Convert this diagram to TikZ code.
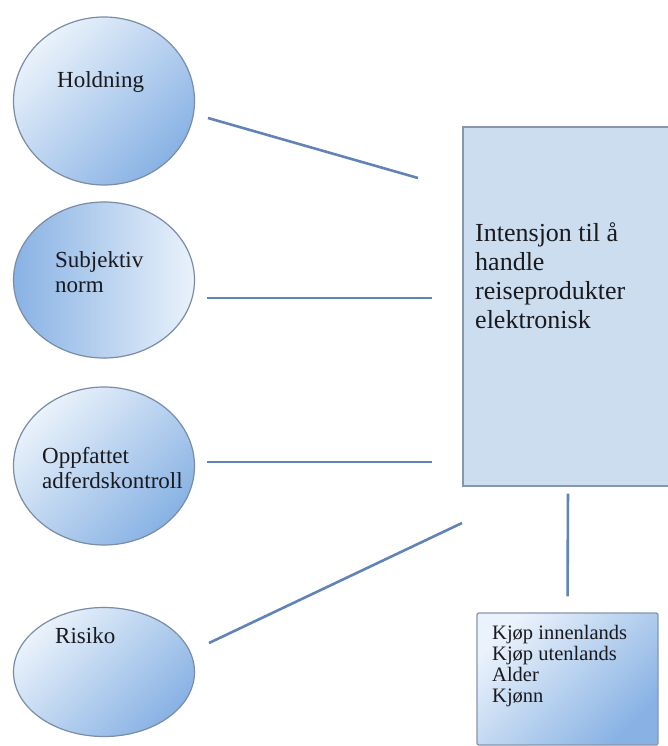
\documentclass[tikz,border=0pt]{standalone}
\usepackage{fontspec}
\setmainfont{Liberation Serif}
\usetikzlibrary{shapes.geometric}
\definecolor{lineblue}{RGB}{98,131,181}
\definecolor{circedge}{RGB}{122,140,166}
\definecolor{clight}{RGB}{234,242,251}
\definecolor{cmid}{RGB}{196,217,242}
\definecolor{cdark}{RGB}{136,178,228}
\definecolor{boxfill}{RGB}{204,221,240}
\definecolor{boxedge}{RGB}{135,150,174}
\definecolor{txt}{RGB}{25,25,30}
\begin{document}
\begin{tikzpicture}[x=1pt,y=-1pt,
  circ/.style={ellipse, draw=circedge, line width=1.2pt, inner sep=0pt,
    minimum width=181pt, shading=axis, top color=clight, middle color=cmid, bottom color=cdark, shading angle=45},
  lbl/.style={inner sep=0pt, text=txt, align=left, font=\fontsize{23}{25}\selectfont},
  bigbox/.style={rectangle, draw=boxedge, line width=1.3pt, fill=boxfill, inner sep=0pt,
    minimum width=210pt, minimum height=359pt},
  smallbox/.style={rectangle, rounded corners=2pt, draw=boxedge, line width=1.3pt, inner sep=0pt,
    minimum width=181pt, minimum height=132pt, shading=axis, top color=clight, middle color=cmid, bottom color=cdark, shading angle=45},
  conn/.style={draw=lineblue, line width=2.6pt}
]
\useasboundingbox[fill=white] (0,0) rectangle (668,746);

% circles
\node[circ, minimum height=168pt] (h) at (104,101) {};
\node[circ, minimum height=156pt, left color=cdark, middle color=cmid, right color=clight] (s) at (104,280) {};
\node[circ, minimum height=158pt] (o) at (104,466) {};
\node[circ, minimum height=129pt] (r) at (104,672) {};

\node[lbl, anchor=base west] (ht) at (57,88) {Holdning};
\node[lbl, anchor=base west] (st) at (55,292) {Subjektiv\\norm};
\node[lbl, anchor=base west] (ot) at (42,488) {Oppfattet\\adferdskontroll};
\node[lbl, anchor=base west] (rt) at (55,643) {Risiko};

% boxes
\node[bigbox] (i) at (568,306.5) {};
\node[inner sep=0pt, text=txt, align=left, anchor=base west,
      font=\fontsize{26}{29}\selectfont] (itext) at (475,328)
  {Intensjon til å\\handle\\reiseprodukter\\elektronisk};

\node[smallbox] (k) at (567.5,679) {};
\node[inner sep=0pt, text=txt, align=left, anchor=base west,
      font=\fontsize{20.5}{21}\selectfont] (ktext) at (492,702)
  {Kjøp innenlands\\Kjøp utenlands\\Alder\\Kjønn};

% connector end points
\coordinate (h1) at (208,118);
\coordinate (i1) at (418,178);
\coordinate (s1) at (207,298);
\coordinate (i2) at (432,298);
\coordinate (o1) at (207,462);
\coordinate (i3) at (432,462);
\coordinate (r1) at (209,643);
\coordinate (i4) at (462,523);

\draw[conn] (h1) -- (i1);
\draw[conn] (s1) -- (i2);
\draw[conn] (o1) -- (i3);
\draw[conn] (r1) -- (i4);
\draw[conn, shorten <=7pt, shorten >=16pt] (i.south) -- (k.north);
\end{tikzpicture}
\end{document}
